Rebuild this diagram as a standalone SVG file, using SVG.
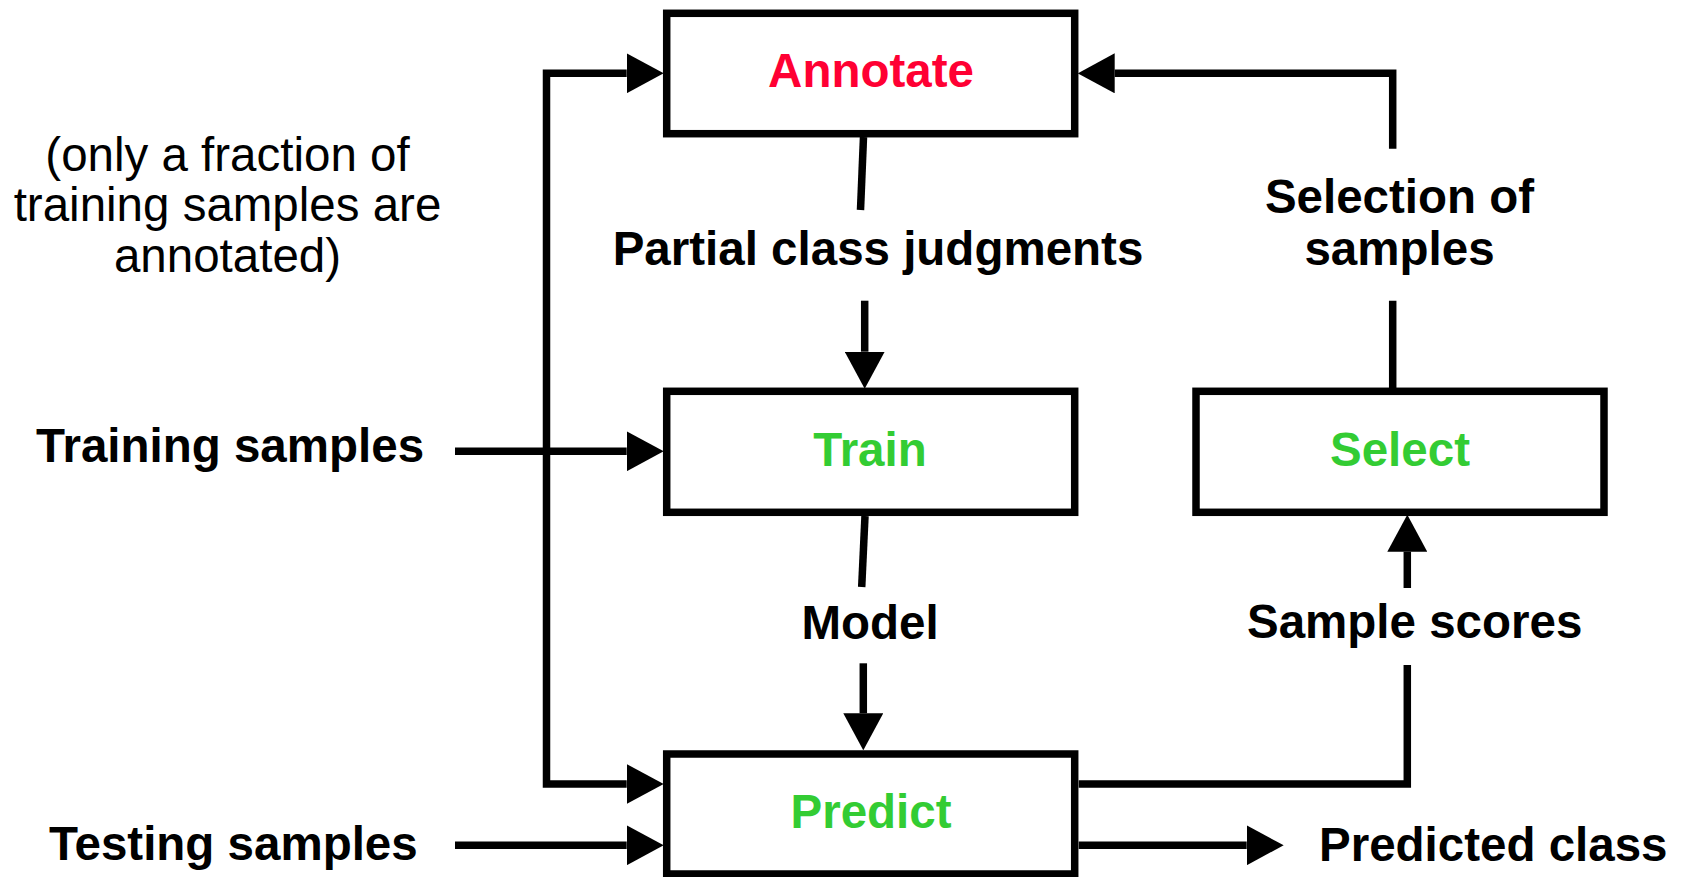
<svg xmlns="http://www.w3.org/2000/svg" width="1682" height="877" viewBox="0 0 1682 877">
  <style>
    .box { fill: #ffffff; stroke: #000000; stroke-width: 7.5; }
    .wire { fill: none; stroke: #000000; stroke-width: 7.5; stroke-linejoin: miter; stroke-linecap: butt; }
    .lbl { font-family: "Liberation Sans", Arial, sans-serif; font-weight: bold; font-size: 47.5px; fill: #000000; }
    .note { font-family: "Liberation Sans", Arial, sans-serif; font-size: 47.5px; fill: #000000; }
    .mid { text-anchor: middle; }
    .red { fill: #ff0033; }
    .green { fill: #33cc33; }
  </style>
  <defs>
    <marker id="head" viewBox="0 -20 37 40" refX="0" refY="0" markerWidth="37" markerHeight="40" markerUnits="userSpaceOnUse" orient="auto-start-reverse">
      <path d="M0,-20 L37,0 L0,20 Z" fill="#000000"/>
    </marker>
  </defs>

  <rect width="1682" height="877" fill="#ffffff"/>

  <!-- connectors -->
  <g id="connectors">
    <!-- fork feeding Annotate and Predict -->
    <path class="wire" d="M626.7,73.3 H546.5 V784 H626.7" marker-start="url(#head)" marker-end="url(#head)"/>
    <!-- training samples into Train -->
    <path class="wire" d="M455,451.3 H626.7" marker-end="url(#head)"/>
    <!-- testing samples into Predict -->
    <path class="wire" d="M455,845.3 H626.7" marker-end="url(#head)"/>
    <!-- Annotate to Train -->
    <path class="wire" d="M863.5,137 L860.5,210"/>
    <path class="wire" d="M864.7,300.7 V351.7" marker-end="url(#head)"/>
    <!-- Train to Predict -->
    <path class="wire" d="M865,516 L861.7,587"/>
    <path class="wire" d="M863.3,663.3 V713.3" marker-end="url(#head)"/>
    <!-- Predict to Select -->
    <path class="wire" d="M1078.7,784 H1407.3 V665"/>
    <path class="wire" d="M1407.3,588 V551.7" marker-end="url(#head)"/>
    <!-- Select back to Annotate -->
    <path class="wire" d="M1392.7,391.3 V300.7"/>
    <path class="wire" d="M1392.7,148.7 V73.3 H1114.7" marker-end="url(#head)"/>
    <!-- Predict output -->
    <path class="wire" d="M1078.7,845.3 H1246.7" marker-end="url(#head)"/>
  </g>

  <!-- nodes -->
  <g id="annotate">
    <rect class="box" x="666.7" y="13.3" width="408" height="120.4"/>
    <text class="lbl mid red" x="871" y="87.3">Annotate</text>
  </g>
  <g id="train">
    <rect class="box" x="666.7" y="391.3" width="408" height="121"/>
    <text class="lbl mid green" x="870" y="465.7">Train</text>
  </g>
  <g id="select">
    <rect class="box" x="1196" y="391.3" width="408" height="121"/>
    <text class="lbl mid green" x="1400" y="465.7">Select</text>
  </g>
  <g id="predict">
    <rect class="box" x="666.7" y="754" width="408" height="120"/>
    <text class="lbl mid green" x="871" y="828.3">Predict</text>
  </g>

  <!-- edge labels and inputs/outputs -->
  <g id="labels">
    <text class="lbl mid" x="878" y="265">Partial class judgments</text>
    <text class="lbl mid" x="1399.5" y="213">Selection of</text>
    <text class="lbl mid" x="1399.5" y="265">samples</text>
    <text class="lbl mid" x="870" y="639.3">Model</text>
    <text class="lbl" x="1247" y="638.3">Sample scores</text>
    <text class="lbl" x="1319" y="861">Predicted class</text>
    <text class="lbl" x="36" y="461.7">Training samples</text>
    <text class="lbl" x="49" y="860">Testing samples</text>
  </g>

  <g id="note">
    <text class="note mid" x="227.5" y="170.7">(only a fraction of</text>
    <text class="note mid" x="227.5" y="220.7">training samples are</text>
    <text class="note mid" x="227.5" y="271.7">annotated)</text>
  </g>
</svg>
